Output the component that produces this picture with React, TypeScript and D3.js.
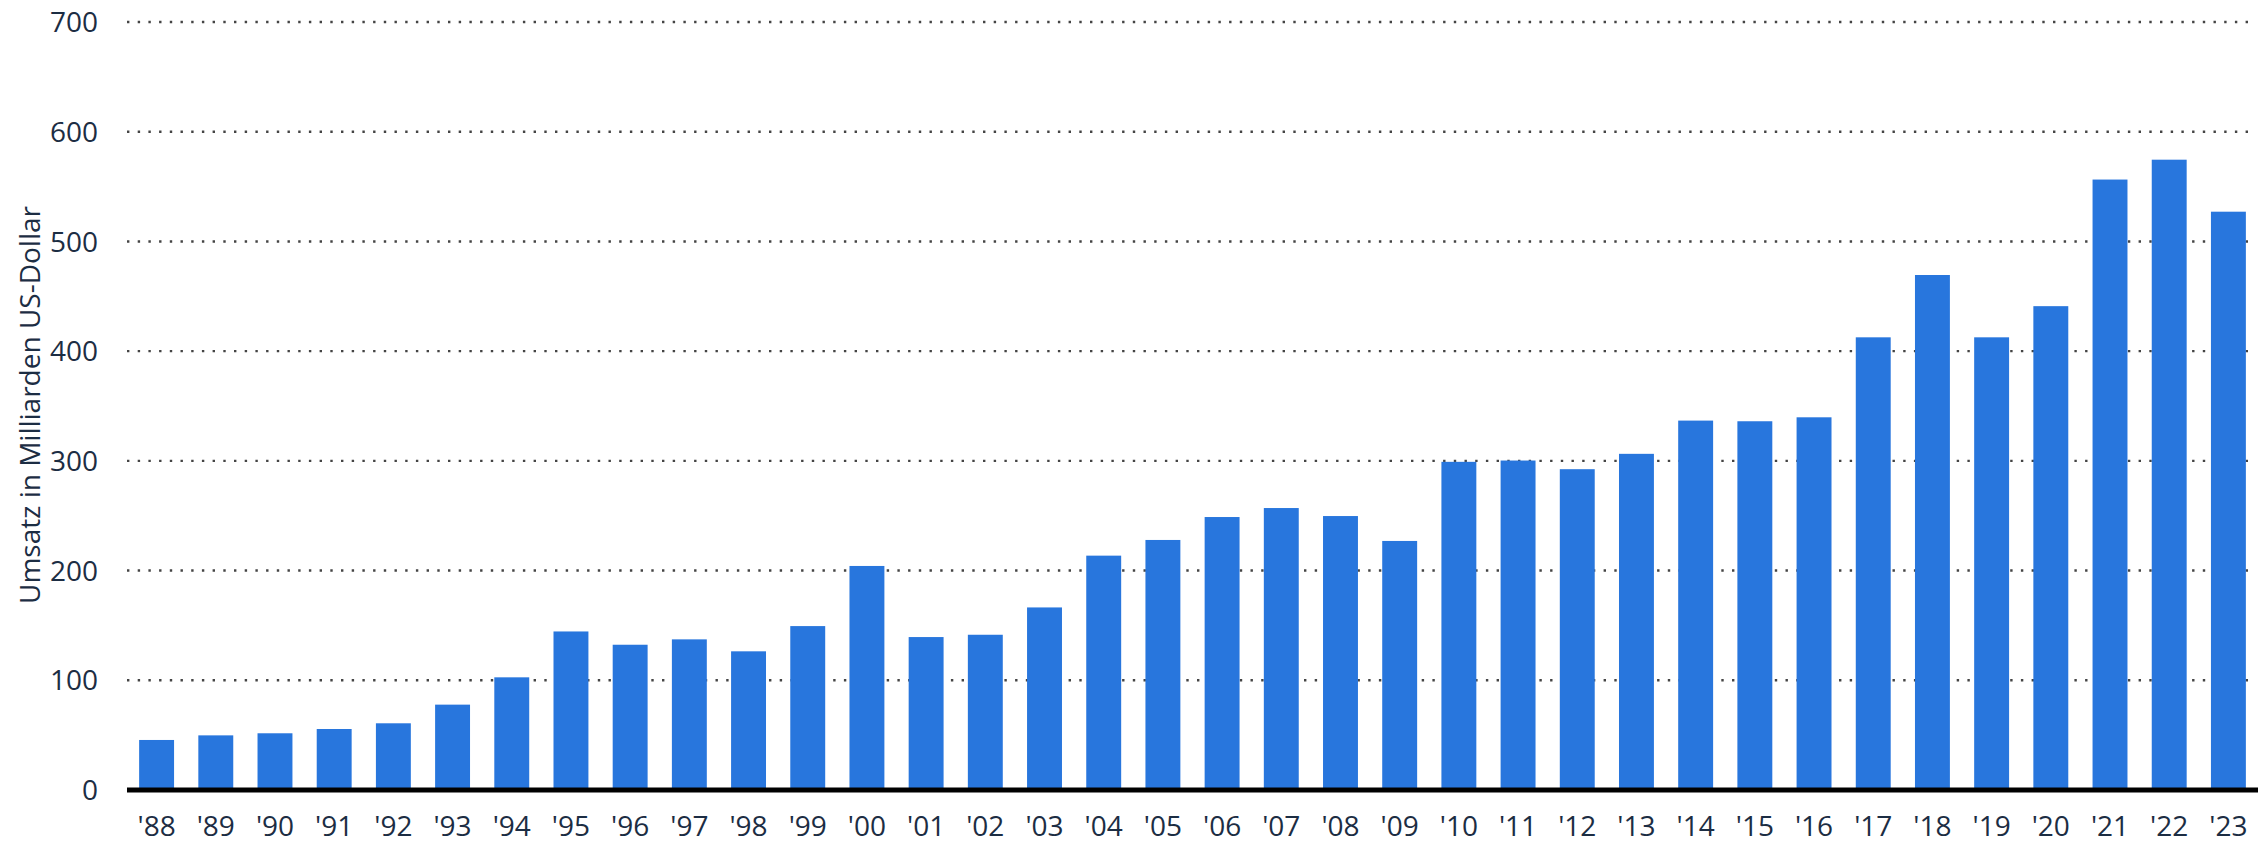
import { useEffect, useRef } from "react";
import * as d3 from "d3";

const years = [
  "'88", "'89", "'90", "'91", "'92", "'93", "'94", "'95", "'96", "'97", "'98", "'99",
  "'00", "'01", "'02", "'03", "'04", "'05", "'06", "'07", "'08", "'09", "'10", "'11",
  "'12", "'13", "'14", "'15", "'16", "'17", "'18", "'19", "'20", "'21", "'22", "'23",
];

// Umsatz in Milliarden US-Dollar
const revenue = [
  45.6, 49.8, 51.7, 55.6, 60.8, 77.8, 102.7, 144.5, 132.4, 137.3, 126.4, 149.4,
  204.2, 139.4, 141.5, 166.4, 213.6, 227.9, 248.8, 257.0, 249.7, 227.0, 299.1, 300.3,
  292.4, 306.4, 336.7, 336.1, 339.7, 412.6, 469.4, 412.6, 441.0, 556.4, 574.5, 527.1,
];

const yTicks = [0, 100, 200, 300, 400, 500, 600, 700];
const yTitle = "Umsatz in Milliarden US-Dollar";

export default function App() {
  const ref = useRef<SVGSVGElement>(null);

  useEffect(() => {
    if (!ref.current) return;
    const svg = d3.select(ref.current);
    svg.selectAll("*").remove();

    const width = 2266;
    const height = 841;
    const margin = { top: 22, right: 8, bottom: 51, left: 127 };
    const font = "'Open Sans', 'Noto Sans', sans-serif";
    const textColor = "#1c2d43";

    const x = d3.scaleBand()
      .domain(years)
      .range([margin.left, width - margin.right])
      .paddingInner(0.41)
      .paddingOuter(0.205);

    const y = d3.scaleLinear()
      .domain([0, 700])
      .range([height - margin.bottom, margin.top]);

    // dotted grid
    svg.append("g")
      .selectAll("line")
      .data(yTicks.filter(d => d > 0))
      .enter()
      .append("line")
      .attr("x1", margin.left)
      .attr("x2", width - margin.right - 4)
      .attr("y1", d => y(d))
      .attr("y2", d => y(d))
      .attr("stroke", "#444")
      .attr("stroke-width", 2.4)
      .attr("stroke-dasharray", "2.4 8.3");

    // y labels
    svg.append("g")
      .selectAll("text")
      .data(yTicks)
      .enter()
      .append("text")
      .attr("x", margin.left - 29)
      .attr("y", d => y(d))
      .attr("dy", "0.36em")
      .attr("text-anchor", "end")
      .attr("font-family", font)
      .attr("font-size", 28)
      .attr("fill", textColor)
      .text(d => d);

    // y title
    svg.append("text")
      .attr("transform", "translate(40,405) rotate(-90)")
      .attr("text-anchor", "middle")
      .attr("font-family", font)
      .attr("font-size", 28)
      .attr("fill", textColor)
      .text(yTitle);

    // bars
    svg.append("g")
      .selectAll("rect")
      .data(revenue)
      .enter()
      .append("rect")
      .attr("x", (d, i) => x(years[i])!)
      .attr("width", x.bandwidth())
      .attr("y", d => y(d))
      .attr("height", d => y(0) - y(d))
      .attr("fill", "#2876dd");

    // baseline
    svg.append("line")
      .attr("x1", margin.left)
      .attr("x2", width - margin.right)
      .attr("y1", y(0))
      .attr("y2", y(0))
      .attr("stroke", "#000")
      .attr("stroke-width", 5);

    // x labels
    svg.append("g")
      .selectAll("text")
      .data(years)
      .enter()
      .append("text")
      .attr("x", d => x(d)! + x.bandwidth() / 2)
      .attr("y", 836)
      .attr("text-anchor", "middle")
      .attr("font-family", font)
      .attr("font-size", 28)
      .attr("fill", textColor)
      .text(d => d);
  }, []);

  return (
    <svg
      ref={ref}
      width={2266}
      height={841}
      style={{ position: "absolute", left: 0, top: 0, background: "#fff" }}
    />
  );
}
